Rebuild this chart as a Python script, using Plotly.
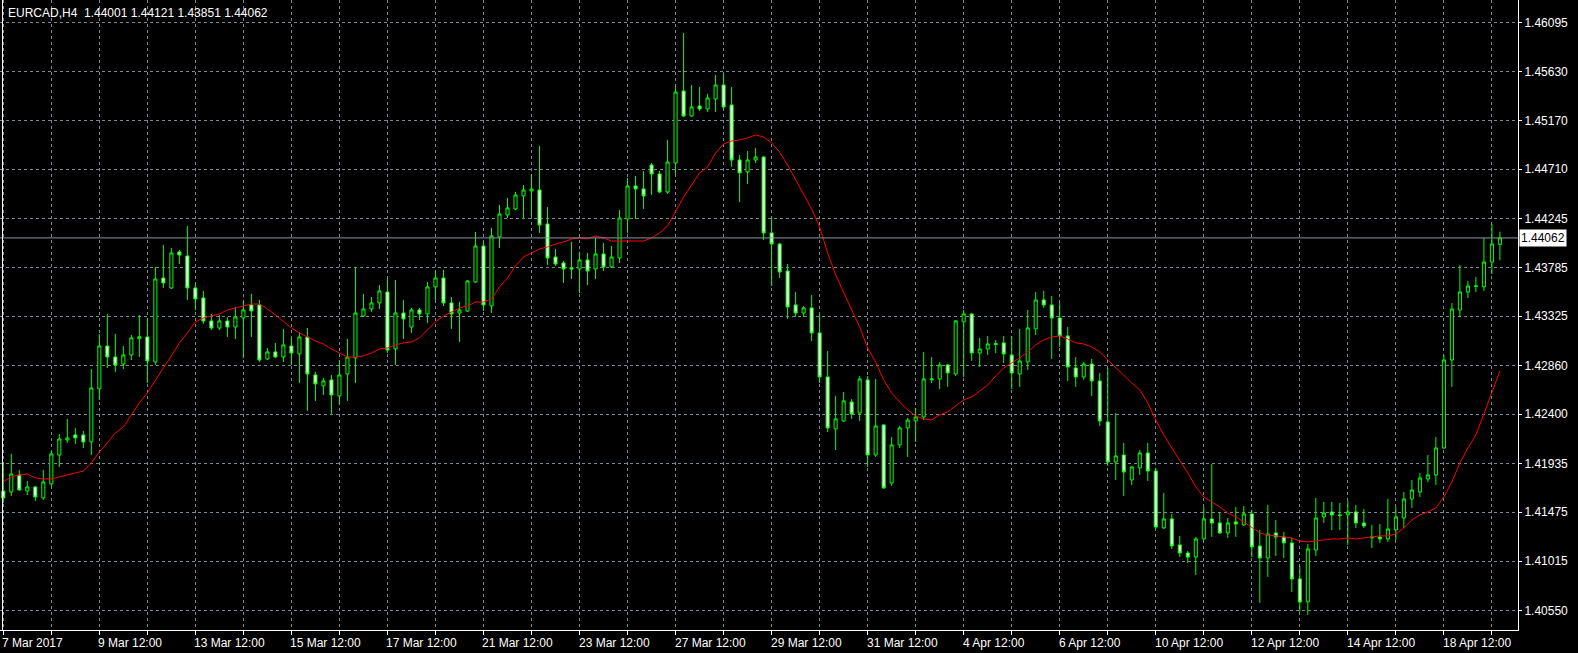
import plotly.graph_objects as go

opens = [1.41676,1.41666,1.41827,1.41676,1.41714,1.41610,1.41742,1.42015,1.42157,1.42204,
1.42204,1.42138,1.42638,1.43043,1.42939,1.42873,1.42958,1.43112,1.43128,1.42892,
1.43684,1.43590,1.43930,1.43892,1.43590,1.43496,1.43279,1.43213,1.43279,1.43222,
1.43307,1.43430,1.43430,1.42921,1.42987,1.42939,1.43043,1.42968,1.43128,1.42770,
1.42666,1.42723,1.42572,1.42779,1.42930,1.43326,1.43392,1.43449,1.43552,1.43015,
1.43354,1.43222,1.43383,1.43345,1.43600,1.43684,1.43449,1.43354,1.43373,1.43647,
1.43986,1.43420,1.44071,1.44279,1.44335,1.44458,1.44505,1.44514,1.44194,1.43882,
1.43826,1.43779,1.43769,1.43854,1.43769,1.43911,1.43788,1.43873,1.44241,1.44552,
1.44524,1.44750,1.44665,1.44495,1.44769,1.45448,1.45212,1.45306,1.45278,1.45372,
1.45504,1.45316,1.44797,1.44684,1.44797,1.44825,1.44109,1.44005,1.43750,1.43430,
1.43354,1.43402,1.43166,1.42751,1.42261,1.42336,1.42515,1.42411,1.42723,1.42015,
1.42298,1.41751,1.42110,1.42270,1.42336,1.42374,1.42723,1.42732,1.42864,1.42779,
1.43270,1.43345,1.42977,1.43015,1.43066,1.43072,1.42958,1.42779,1.42892,1.43204,
1.43477,1.43430,1.43307,1.43138,1.42836,1.42751,1.42873,1.42713,1.42327,1.41949,
1.42015,1.41780,1.41893,1.42034,1.41864,1.41327,1.41412,1.41167,1.41091,1.41053,
1.41223,1.41412,1.41374,1.41280,1.41384,1.41355,1.41459,1.41157,1.41044,1.41280,
1.41242,1.41186,1.40846,1.40629,1.41119,1.41431,1.41478,1.41450,1.41450,1.41478,
1.41374,1.41233,1.41242,1.41223,1.41308,1.41421,1.41600,1.41666,1.41789,1.41827,
1.42081,1.42911,1.43383,1.43552,1.43605,1.43600,1.43835,1.44001]

highs = [1.41949,1.42025,1.41874,1.41770,1.41723,1.41874,1.42053,1.42213,1.42355,1.42270,
1.42242,1.42826,1.43156,1.43345,1.43156,1.43043,1.43147,1.43336,1.43307,1.43788,
1.43996,1.43967,1.43948,1.44175,1.43628,1.43562,1.43345,1.43336,1.43317,1.43411,
1.43468,1.43534,1.43477,1.43024,1.43072,1.43204,1.43119,1.43166,1.43213,1.42798,
1.42741,1.42770,1.42902,1.43109,1.43788,1.43534,1.43505,1.43618,1.43684,1.43666,
1.43477,1.43402,1.43402,1.43647,1.43750,1.43760,1.43505,1.43458,1.43666,1.44118,
1.44033,1.44156,1.44373,1.44439,1.44495,1.44561,1.44665,1.44929,1.44354,1.43958,
1.43845,1.44024,1.43930,1.43920,1.44062,1.44015,1.43986,1.44326,1.44627,1.44646,
1.44693,1.44769,1.44693,1.44986,1.45495,1.45995,1.45504,1.45486,1.45420,1.45599,
1.45608,1.45486,1.44844,1.44882,1.44910,1.44835,1.44260,1.44015,1.43816,1.43552,
1.43420,1.43524,1.43336,1.42996,1.42572,1.42609,1.42543,1.42760,1.42760,1.42732,
1.42308,1.42185,1.42289,1.42364,1.42459,1.42987,1.42939,1.42892,1.42873,1.43288,
1.43383,1.43354,1.43119,1.43138,1.43100,1.43138,1.43138,1.43204,1.43383,1.43552,
1.43562,1.43515,1.43449,1.43222,1.42939,1.42892,1.42921,1.42789,1.42836,1.42411,
1.42129,1.41912,1.42062,1.42129,1.41893,1.41657,1.41459,1.41252,1.41110,1.41242,
1.41525,1.41930,1.41478,1.41421,1.41525,1.41534,1.41497,1.41308,1.41544,1.41402,
1.41289,1.41233,1.40969,1.41176,1.41610,1.41572,1.41572,1.41563,1.41582,1.41544,
1.41506,1.41355,1.41365,1.41600,1.41525,1.41666,1.41780,1.41846,1.42015,1.42185,
1.42958,1.43449,1.43807,1.43656,1.43694,1.44062,1.44194,1.44121]

lows = [1.41563,1.41629,1.41676,1.41638,1.41582,1.41591,1.41723,1.41902,1.42129,1.42119,
1.42081,1.42015,1.42534,1.42836,1.42798,1.42826,1.42911,1.42939,1.42694,1.42864,
1.43590,1.43581,1.43816,1.43477,1.43383,1.43251,1.43194,1.43194,1.43128,1.43109,
1.42930,1.43128,1.42892,1.42911,1.42930,1.42892,1.42864,1.42694,1.42430,1.42525,
1.42581,1.42402,1.42487,1.42525,1.42694,1.43317,1.43364,1.43392,1.42977,1.42864,
1.43109,1.43166,1.43288,1.43260,1.43477,1.43420,1.43204,1.43081,1.43364,1.43637,
1.43373,1.43354,1.43967,1.44250,1.44326,1.44250,1.44260,1.44109,1.43807,1.43798,
1.43637,1.43675,1.43543,1.43618,1.43675,1.43750,1.43779,1.43826,1.44109,1.44241,
1.44335,1.44467,1.44486,1.44477,1.44665,1.45203,1.45203,1.45259,1.45250,1.45250,
1.45269,1.44731,1.44401,1.44571,1.44769,1.44043,1.43609,1.43684,1.43298,1.43317,
1.43317,1.43090,1.42694,1.42232,1.42062,1.42327,1.42355,1.42336,1.41902,1.41996,
1.41695,1.41723,1.42081,1.41996,1.42138,1.42345,1.42694,1.42638,1.42657,1.42760,
1.42751,1.42902,1.42845,1.42958,1.42977,1.42883,1.42638,1.42657,1.42817,1.43147,
1.43402,1.42921,1.43034,1.42713,1.42657,1.42723,1.42572,1.42289,1.41912,1.41780,
1.41629,1.41732,1.41827,1.41770,1.41318,1.41318,1.41129,1.41053,1.40997,1.40884,
1.41214,1.41242,1.41270,1.41233,1.41242,1.41346,1.41053,1.40620,1.40865,1.41063,
1.41044,1.40723,1.40535,1.40507,1.41063,1.41374,1.41308,1.41308,1.41167,1.41327,
1.41327,1.41138,1.41186,1.41195,1.41214,1.41327,1.41516,1.41619,1.41761,1.41732,
1.42072,1.42657,1.43317,1.43496,1.43552,1.43562,1.43722,1.43851]

closes = [1.41610,1.41836,1.41685,1.41714,1.41619,1.41761,1.42025,1.42166,1.42176,1.42176,
1.42138,1.42647,1.43043,1.42939,1.42864,1.42958,1.43119,1.43131,1.42902,1.43675,
1.43637,1.43920,1.43901,1.43590,1.43486,1.43279,1.43213,1.43279,1.43222,1.43317,
1.43383,1.43373,1.42911,1.42987,1.42939,1.43053,1.42977,1.43128,1.42779,1.42685,
1.42713,1.42581,1.42770,1.42939,1.43354,1.43392,1.43449,1.43562,1.43005,1.43354,
1.43298,1.43383,1.43345,1.43600,1.43684,1.43449,1.43345,1.43383,1.43656,1.43986,
1.43430,1.44081,1.44288,1.44345,1.44467,1.44514,1.44524,1.44184,1.43873,1.43816,
1.43769,1.43769,1.43854,1.43750,1.43911,1.43788,1.43882,1.44250,1.44552,1.44524,
1.44458,1.44665,1.44495,1.44778,1.45438,1.45212,1.45297,1.45278,1.45382,1.45504,
1.45297,1.44797,1.44675,1.44797,1.44825,1.44109,1.44005,1.43741,1.43411,1.43354,
1.43402,1.43166,1.42751,1.42270,1.42355,1.42525,1.42402,1.42732,1.42015,1.42289,
1.41704,1.42110,1.42270,1.42345,1.42374,1.42732,1.42732,1.42864,1.42789,1.43279,
1.43345,1.42977,1.43015,1.43062,1.43058,1.42968,1.42789,1.42902,1.43213,1.43477,
1.43430,1.43307,1.43138,1.42845,1.42751,1.42873,1.42713,1.42336,1.41949,1.42006,
1.41855,1.41902,1.42034,1.41864,1.41336,1.41412,1.41157,1.41091,1.41053,1.41223,
1.41412,1.41374,1.41280,1.41374,1.41365,1.41459,1.41148,1.41044,1.41270,1.41242,
1.41186,1.40846,1.40629,1.41129,1.41421,1.41468,1.41450,1.41445,1.41478,1.41374,
1.41346,1.41242,1.41223,1.41318,1.41431,1.41600,1.41685,1.41798,1.41827,1.42081,
1.42911,1.43392,1.43552,1.43609,1.43609,1.43835,1.44005,1.44062]

ma_values = [1.41761,1.41808,1.41827,1.41836,1.41798,1.41789,1.41789,1.41808,1.41827,1.41846,
1.41864,1.41940,1.42044,1.42129,1.42223,1.42279,1.42393,1.42506,1.42600,1.42723,
1.42836,1.42949,1.43072,1.43166,1.43270,1.43307,1.43326,1.43345,1.43383,1.43402,
1.43420,1.43439,1.43439,1.43392,1.43336,1.43270,1.43213,1.43166,1.43128,1.43090,
1.43062,1.43015,1.42977,1.42939,1.42939,1.42949,1.42977,1.43015,1.43024,1.43053,
1.43072,1.43081,1.43119,1.43194,1.43270,1.43326,1.43364,1.43402,1.43420,1.43458,
1.43458,1.43486,1.43600,1.43684,1.43798,1.43882,1.43920,1.43958,1.43977,1.44005,
1.44024,1.44052,1.44062,1.44052,1.44081,1.44062,1.44033,1.44033,1.44033,1.44033,
1.44033,1.44062,1.44109,1.44175,1.44316,1.44448,1.44561,1.44675,1.44731,1.44863,
1.44948,1.44976,1.44986,1.45005,1.45033,1.45014,1.44958,1.44873,1.44750,1.44609,
1.44467,1.44335,1.44165,1.43920,1.43713,1.43552,1.43383,1.43222,1.43024,1.42892,
1.42723,1.42600,1.42515,1.42440,1.42383,1.42355,1.42345,1.42393,1.42421,1.42477,
1.42534,1.42562,1.42619,1.42675,1.42760,1.42836,1.42883,1.42930,1.42987,1.43053,
1.43100,1.43128,1.43138,1.43109,1.43072,1.43062,1.43034,1.42987,1.42911,1.42836,
1.42770,1.42694,1.42628,1.42506,1.42345,1.42204,1.42081,1.41968,1.41846,1.41714,
1.41619,1.41572,1.41525,1.41468,1.41431,1.41384,1.41336,1.41280,1.41261,1.41252,
1.41242,1.41233,1.41204,1.41195,1.41204,1.41214,1.41223,1.41223,1.41233,1.41223,
1.41233,1.41242,1.41252,1.41252,1.41270,1.41327,1.41402,1.41450,1.41478,1.41516,
1.41619,1.41761,1.41940,1.42081,1.42204,1.42402,1.42600,1.42807]

time_labels = ["7 Mar 2017", "9 Mar 12:00", "13 Mar 12:00", "15 Mar 12:00", "17 Mar 12:00",
               "21 Mar 12:00", "23 Mar 12:00", "27 Mar 12:00", "29 Mar 12:00", "31 Mar 12:00",
               "4 Apr 12:00", "6 Apr 12:00", "10 Apr 12:00", "12 Apr 12:00", "14 Apr 12:00",
               "18 Apr 12:00"]
price_ticks = ["1.46095", "1.45630", "1.45170", "1.44710", "1.44245", "1.43785", "1.43325",
               "1.42860", "1.42400", "1.41935", "1.41475", "1.41015", "1.40550"]
title_text = "EURCAD,H4  1.44001 1.44121 1.43851 1.44062"
last_price = 1.44062

bars = list(range(len(opens)))
FONT = "Liberation Sans"
GRID = "#778899"

fig = go.Figure()
fig.add_trace(go.Candlestick(
    x=bars, open=opens, high=highs, low=lows, close=closes,
    increasing=dict(line=dict(color="#00FF00", width=1), fillcolor="#000000"),
    decreasing=dict(line=dict(color="#00FF00", width=1), fillcolor="#FFFFFF"),
    whiskerwidth=0, hoverinfo="skip", showlegend=False,
))
fig.add_trace(go.Scatter(
    x=bars, y=ma_values, mode="lines",
    line=dict(color="#FF0000", width=1), hoverinfo="skip", showlegend=False,
))

grid_vals = list(range(0, len(bars), 6))
fig.update_layout(
    width=1578, height=653,
    paper_bgcolor="#000000", plot_bgcolor="#000000",
    margin=dict(l=0, r=60, t=0, b=23),
    boxgap=0.45,
    hovermode=False,
    font=dict(family=FONT, size=12, color="#FFFFFF"),
    xaxis=dict(
        range=[-0.412, 189.26],
        rangeslider=dict(visible=False),
        tickmode="array", tickvals=grid_vals, showticklabels=False,
        ticks="outside", ticklen=4, tickcolor="#FFFFFF",
        showgrid=True, gridcolor=GRID, griddash="3px,3px", gridwidth=1,
        showline=True, linecolor="#FFFFFF", linewidth=1,
        zeroline=False, fixedrange=True,
    ),
    yaxis=dict(
        side="right",
        range=[1.403646, 1.463057],
        tickmode="array",
        tickvals=[float(s) for s in price_ticks], ticktext=price_ticks,
        ticks="outside", ticklen=3, tickcolor="#FFFFFF",
        tickfont=dict(family=FONT, size=12, color="#FFFFFF"),
        showgrid=True, gridcolor=GRID, griddash="3px,3px", gridwidth=1,
        showline=True, linecolor="#FFFFFF", linewidth=1,
        zeroline=False, fixedrange=True,
    ),
)

# Bid line
fig.add_shape(type="line", xref="paper", yref="y", x0=0, x1=1, y0=last_price, y1=last_price,
              line=dict(color="#8A96A3", width=1))
# left border
fig.add_shape(type="line", xref="paper", yref="paper", x0=2.5/1518, x1=2.5/1518, y0=0, y1=1,
              line=dict(color="#FFFFFF", width=1))

annotations = []
for k, lab in enumerate(time_labels):
    annotations.append(dict(
        x=k * 12, y=0, xref="x", yref="paper", text=lab, showarrow=False,
        xanchor="left", yanchor="top", yshift=-4, xshift=-3,
        font=dict(family=FONT, size=12, color="#FFFFFF"),
    ))
annotations.append(dict(
    x=1, y=last_price, xref="paper", yref="y", text=f"{last_price:.5f}", showarrow=False,
    xanchor="left", yanchor="middle", xshift=1, bgcolor="#FFFFFF", borderpad=1,
    font=dict(family=FONT, size=12, color="#000000"),
))
annotations.append(dict(
    x=0, y=1, xref="paper", yref="paper", text=title_text, showarrow=False,
    xanchor="left", yanchor="top", xshift=6, yshift=-4,
    font=dict(family=FONT, size=12, color="#FFFFFF"),
))
fig.update_layout(annotations=annotations)

fig.write_html(
    "out.html",
    config={"displayModeBar": False},
    post_script="document.body.style.margin='0';document.body.style.overflow='hidden';",
)
